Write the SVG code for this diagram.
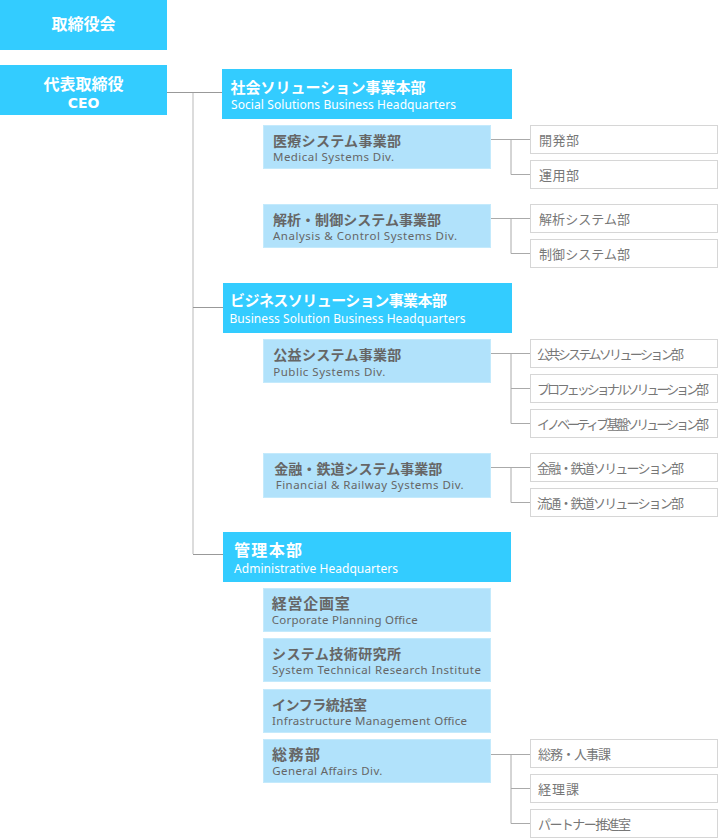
<svg xmlns="http://www.w3.org/2000/svg" width="720" height="840" viewBox="0 0 720 840">
<style>
text{font-family:"Noto Sans CJK JP","Noto Sans",sans-serif}
.top{fill:#33ccff}
.hq{fill:#33ccff}
.div{fill:#b1e2fb;stroke:#c4eafc;stroke-width:1}
.sub{fill:#fff;stroke:#d6d6d6;stroke-width:1}
.tw{fill:#fff;font-weight:bold;font-size:16px}
.hj{fill:#fff;font-weight:bold;font-size:15px}
.he{fill:#fff;font-size:12px;font-family:"Noto Sans","DejaVu Sans",sans-serif}
.dj{fill:#666;font-weight:bold;font-size:14px}
.de{fill:#666;font-size:11.5px;font-family:"Noto Sans","DejaVu Sans",sans-serif}
.sj{fill:#777;font-size:13px}
.c1{stroke:#999;stroke-width:1.2;fill:none}
.c2{stroke:#d4d4d4;stroke-width:1.6;fill:none}
.c3{stroke:#aaa;stroke-width:1;fill:none}
</style>
<rect width="720" height="840" fill="#fff"/>
<g id="connectors">
<path class="c2" d="M193 92V554"/>
<path class="c1" d="M167 92.5H222M193 307.5H223M193 554.5H223"/>
<path class="c3" d="M491 139.5H530M511 139.5V174.5H530"/>
<path class="c3" d="M491 218.5H530M511 218.5V253.5H530"/>
<path class="c3" d="M491 353.5H530M511 353.5V423.5H530M511 388.5H530"/>
<path class="c3" d="M491 467.5H530M511 467.5V502.5H530"/>
<path class="c3" d="M491 754.5H530M511 754.5V823.5H530M511 788.5H530"/>
</g>
<g id="board"><rect class="top" x="0" y="0" width="167" height="50"/><text class="tw" x="83.5" y="30" text-anchor="middle">取締役会</text></g>
<g id="ceo"><rect class="top" x="0" y="65" width="167" height="50"/><text class="tw" x="83.5" y="90" text-anchor="middle">代表取締役</text><text class="tw" x="83.5" y="108" text-anchor="middle" style="font-size:14px;font-family:'DejaVu Sans',sans-serif">CEO</text></g>

<g id="hq-social"><rect class="hq" x="222" y="69" width="290" height="50"/><text class="hj" x="230.5" y="93" textLength="195">社会ソリューション事業本部</text><text class="he" x="231" y="109" textLength="225">Social Solutions Business Headquarters</text></g>
<g id="div-medical"><rect class="div" x="263.5" y="125.5" width="227" height="43"/><text class="dj" x="273" y="145.5" textLength="128">医療システム事業部</text><text class="de" x="273" y="161" textLength="121">Medical Systems Div.</text></g>
<g id="sub-dev"><rect class="sub" x="530.5" y="125.5" width="187" height="28"/><text class="sj" x="539" y="145" textLength="40">開発部</text></g>
<g id="sub-ops"><rect class="sub" x="530.5" y="160.5" width="187" height="28"/><text class="sj" x="539" y="180" textLength="40">運用部</text></g>
<g id="div-analysis"><rect class="div" x="263.5" y="204.5" width="227" height="43"/><text class="dj" x="273" y="224.5" textLength="168">解析・制御システム事業部</text><text class="de" x="273" y="240" textLength="184">Analysis &amp; Control Systems Div.</text></g>
<g id="sub-analysis"><rect class="sub" x="530.5" y="204.5" width="187" height="28"/><text class="sj" x="539" y="224" textLength="91">解析システム部</text></g>
<g id="sub-control"><rect class="sub" x="530.5" y="239.5" width="187" height="28"/><text class="sj" x="539" y="259" textLength="91">制御システム部</text></g>

<g id="hq-business"><rect class="hq" x="223" y="283" width="289" height="50"/><text class="hj" x="230" y="306" textLength="217">ビジネスソリューション事業本部</text><text class="he" x="229.5" y="323" textLength="236">Business Solution Business Headquarters</text></g>
<g id="div-public"><rect class="div" x="263.5" y="339.5" width="227" height="43"/><text class="dj" x="273.3" y="360" textLength="128">公益システム事業部</text><text class="de" x="273.3" y="375.5" textLength="112">Public Systems Div.</text></g>
<g id="sub-public"><rect class="sub" x="530.5" y="339.5" width="187" height="28"/><text class="sj" x="537" y="359" textLength="147">公共システムソリューション部</text></g>
<g id="sub-prof"><rect class="sub" x="530.5" y="374.5" width="187" height="28"/><text class="sj" x="537" y="394" textLength="172">プロフェッショナルソリューション部</text></g>
<g id="sub-innov"><rect class="sub" x="530.5" y="409.5" width="187" height="28"/><text class="sj" x="537" y="429" textLength="172">イノベーティブ基盤ソリューション部</text></g>
<g id="div-finance"><rect class="div" x="263.5" y="453.5" width="227" height="44"/><text class="dj" x="274.3" y="473.5" textLength="168">金融・鉄道システム事業部</text><text class="de" x="275.7" y="489" textLength="188">Financial &amp; Railway Systems Div.</text></g>
<g id="sub-finance"><rect class="sub" x="530.5" y="453.5" width="187" height="28"/><text class="sj" x="537" y="473" textLength="147">金融・鉄道ソリューション部</text></g>
<g id="sub-distrib"><rect class="sub" x="530.5" y="488.5" width="187" height="28"/><text class="sj" x="537" y="508" textLength="147">流通・鉄道ソリューション部</text></g>

<g id="hq-admin"><rect class="hq" x="223" y="532" width="288" height="50"/><text class="hj" x="234" y="556" textLength="68" style="font-size:16px">管理本部</text><text class="he" x="234" y="573" textLength="164">Administrative Headquarters</text></g>
<g id="div-planning"><rect class="div" x="263.5" y="588.5" width="227" height="43"/><text class="dj" x="271.7" y="608.5" textLength="78" style="font-size:15px">経営企画室</text><text class="de" x="271.7" y="623.5" textLength="146">Corporate Planning Office</text></g>
<g id="div-research"><rect class="div" x="263.5" y="638.5" width="227" height="43"/><text class="dj" x="272" y="658.5" textLength="129">システム技術研究所</text><text class="de" x="272" y="673.5" textLength="209">System Technical Research Institute</text></g>
<g id="div-infra"><rect class="div" x="263.5" y="689.5" width="227" height="43"/><text class="dj" x="272" y="709.5" textLength="95">インフラ統括室</text><text class="de" x="272" y="724.5" textLength="195">Infrastructure Management Office</text></g>
<g id="div-general"><rect class="div" x="263.5" y="739.5" width="227" height="43"/><text class="dj" x="272" y="759.5" textLength="48" style="font-size:15px">総務部</text><text class="de" x="272.3" y="775" textLength="110">General Affairs Div.</text></g>
<g id="sub-hr"><rect class="sub" x="530.5" y="739.5" width="187" height="28"/><text class="sj" x="538" y="759" textLength="73">総務・人事課</text></g>
<g id="sub-acct"><rect class="sub" x="530.5" y="774.5" width="187" height="28"/><text class="sj" x="538" y="794" textLength="41">経理課</text></g>
<g id="sub-partner"><rect class="sub" x="530.5" y="809.5" width="187" height="28"/><text class="sj" x="538" y="829" textLength="93">パートナー推進室</text></g>
</svg>
